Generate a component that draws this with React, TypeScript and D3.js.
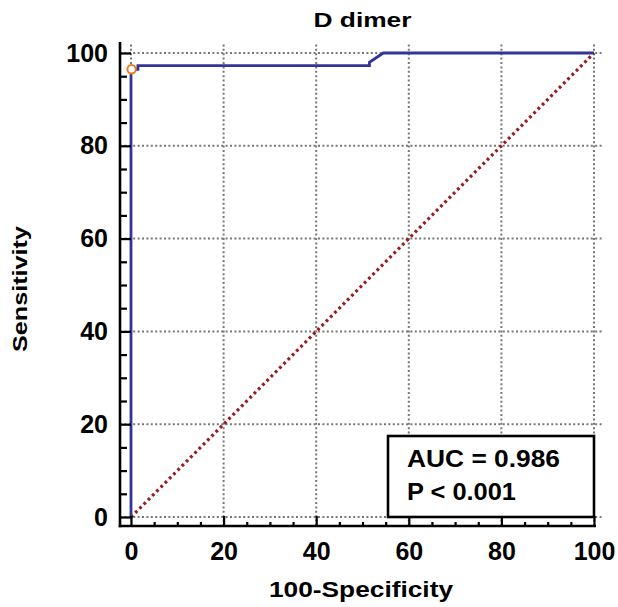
import React, { useEffect, useRef } from "react";
import * as d3 from "d3";

// ROC curve points (100-specificity vs sensitivity)
const rocFpr = [0, 0, 1.5, 1.5, 51.5, 51.5, 54.5, 100];
const rocTpr = [0, 96.5, 96.5, 97.3, 97.3, 98, 100, 100];
// chosen cut-off point
const cutFpr = [0];
const cutTpr = [96.5];
const majorTicks = [0, 20, 40, 60, 80, 100];
const minorTicks = d3.range(0, 101, 5).filter((v) => v % 20 !== 0);
const legendLines = ["AUC = 0.986", "P < 0.001"];

const W = 618;
const H = 607;
const FONT = "'Liberation Sans', Arial, Helvetica, sans-serif";

const App = () => {
  const svgRef = useRef<SVGSVGElement | null>(null);

  useEffect(() => {
    const svg = d3.select(svgRef.current);
    svg.selectAll("*").remove();

    const x = d3.scaleLinear().domain([0, 100]).range([131, 594]);
    const y = d3.scaleLinear().domain([0, 100]).range([517, 53]);
    const axisX = 120; // left axis line
    const axisY = 526; // bottom axis line

    // grid
    const grid = svg.append("g");
    grid
      .selectAll("line.gx")
      .data(majorTicks)
      .enter()
      .append("line")
      .attr("x1", (d) => x(d))
      .attr("x2", (d) => x(d))
      .attr("y1", axisY)
      .attr("y2", 43)
      .attr("stroke", "#777")
      .attr("stroke-width", 2)
      .attr("stroke-dasharray", "2,2.4");
    grid
      .selectAll("line.gy")
      .data(majorTicks)
      .enter()
      .append("line")
      .attr("x1", axisX)
      .attr("x2", 602)
      .attr("y1", (d) => y(d))
      .attr("y2", (d) => y(d))
      .attr("stroke", "#777")
      .attr("stroke-width", 2)
      .attr("stroke-dasharray", "2,2.4");

    // diagonal reference line
    svg
      .append("line")
      .attr("x1", x(0))
      .attr("y1", y(0))
      .attr("x2", x(100))
      .attr("y2", y(100))
      .attr("stroke", "#9b1b1b")
      .attr("stroke-width", 3.2)
      .attr("stroke-dasharray", "2.8,3.2");

    // ROC curve
    const line = d3
      .line<number>()
      .x((d, i) => x(rocFpr[i]))
      .y((d) => y(d));
    svg
      .append("path")
      .datum(rocTpr)
      .attr("d", line)
      .attr("fill", "none")
      .attr("stroke", "#33339a")
      .attr("stroke-width", 2.8);

    svg
      .selectAll("circle.cut")
      .data(cutFpr)
      .enter()
      .append("circle")
      .attr("cx", (d) => x(d) + 0.6)
      .attr("cy", (d, i) => y(cutTpr[i]))
      .attr("r", 4.2)
      .attr("fill", "white")
      .attr("stroke", "#f07a20")
      .attr("stroke-width", 2);

    // axes
    const axes = svg.append("g").attr("font-family", FONT);
    const leftMinor = axes
      .append("g")
      .attr("transform", `translate(${axisX},0)`)
      .call(d3.axisLeft(y).tickValues(minorTicks).tickSize(-7).tickFormat(() => ""));
    const leftMajor = axes
      .append("g")
      .attr("transform", `translate(${axisX},0)`)
      .call(
        d3
          .axisLeft(y)
          .tickValues(majorTicks)
          .tickSize(-11)
          .tickPadding(12)
          .tickFormat(d3.format("d"))
      );
    const bottomMinor = axes
      .append("g")
      .attr("transform", `translate(0,${axisY})`)
      .call(d3.axisBottom(x).tickValues(minorTicks).tickSize(-4).tickFormat(() => ""));
    const bottomMajor = axes
      .append("g")
      .attr("transform", `translate(0,${axisY})`)
      .call(
        d3
          .axisBottom(x)
          .tickValues(majorTicks)
          .tickSize(-10)
          .tickPadding(16)
          .tickFormat(d3.format("d"))
      );
    [leftMinor, leftMajor, bottomMinor, bottomMajor].forEach((g) => {
      g.select(".domain").remove();
      g.selectAll(".tick line").attr("stroke", "#000").attr("stroke-width", 2.2);
      g.selectAll(".tick text")
        .attr("fill", "#000")
        .attr("font-size", 25)
        .attr("font-weight", "bold")
        .attr("font-family", FONT);
    });

    axes
      .append("line")
      .attr("x1", axisX)
      .attr("x2", axisX)
      .attr("y1", 42)
      .attr("y2", axisY + 1.3)
      .attr("stroke", "#000")
      .attr("stroke-width", 2.6);
    axes
      .append("line")
      .attr("x1", axisX - 1.3)
      .attr("x2", 596)
      .attr("y1", axisY)
      .attr("y2", axisY)
      .attr("stroke", "#000")
      .attr("stroke-width", 2.6);

    // legend box
    const lg = svg.append("g");
    lg.append("rect")
      .attr("x", 388)
      .attr("y", 436)
      .attr("width", x(100) - 388)
      .attr("height", y(0) - 436)
      .attr("fill", "white")
      .attr("stroke", "#000")
      .attr("stroke-width", 2.6);
    lg.selectAll("text")
      .data(legendLines)
      .enter()
      .append("text")
      .attr("x", 407)
      .attr("y", (d, i) => 467 + i * 33)
      .attr("font-family", FONT)
      .attr("font-size", 24)
      .attr("font-weight", "bold")
      .attr("textLength", (d, i) => (i === 0 ? 153 : 109))
      .attr("lengthAdjust", "spacingAndGlyphs")
      .text((d) => d);

    // titles
    svg
      .append("text")
      .attr("x", 362.5)
      .attr("y", 27)
      .attr("text-anchor", "middle")
      .attr("font-family", FONT)
      .attr("font-size", 20)
      .attr("font-weight", "bold")
      .attr("textLength", 98)
      .attr("lengthAdjust", "spacingAndGlyphs")
      .text("D dimer");
    svg
      .append("text")
      .attr("x", 361)
      .attr("y", 597)
      .attr("text-anchor", "middle")
      .attr("font-family", FONT)
      .attr("font-size", 22)
      .attr("font-weight", "bold")
      .attr("textLength", 184)
      .attr("lengthAdjust", "spacingAndGlyphs")
      .text("100-Specificity");
    svg
      .append("text")
      .attr("transform", "translate(27,289) rotate(-90)")
      .attr("text-anchor", "middle")
      .attr("font-family", FONT)
      .attr("font-size", 21)
      .attr("font-weight", "bold")
      .attr("textLength", 126)
      .attr("lengthAdjust", "spacingAndGlyphs")
      .text("Sensitivity");
  }, []);

  return (
    <svg
      ref={svgRef}
      width={W}
      height={H}
      style={{ position: "absolute", left: 0, top: 0, background: "white" }}
    />
  );
};

export default App;
